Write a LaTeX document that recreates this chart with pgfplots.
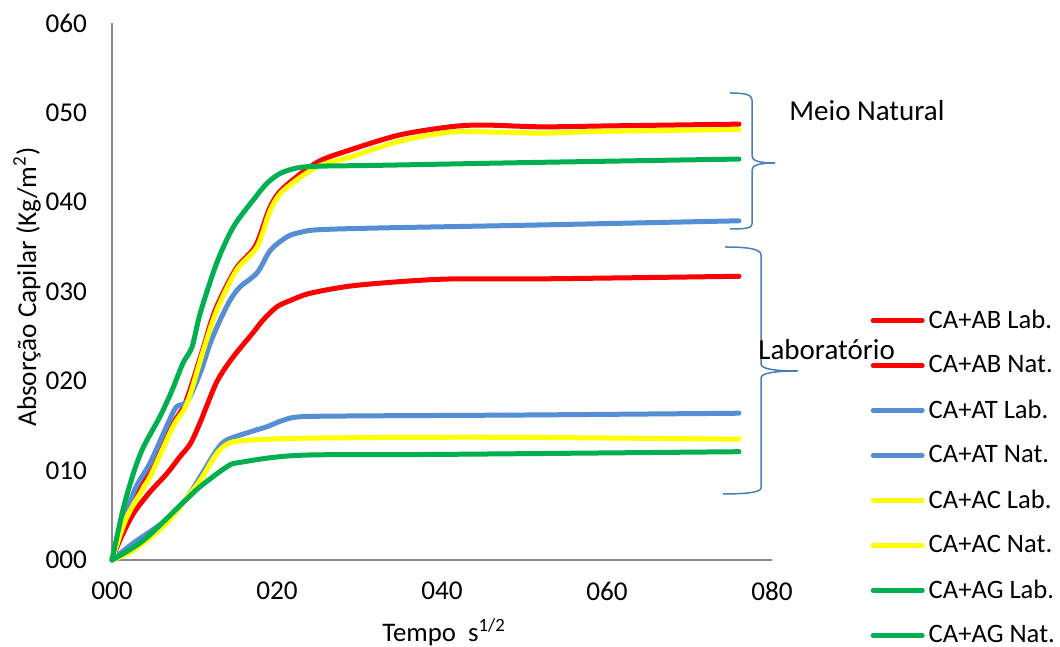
\documentclass[border=0pt]{standalone}
\usepackage{fontspec}
\setmainfont{Carlito}
\usepackage{pgfplots}
\pgfplotsset{compat=1.18}
\definecolor{cred}{HTML}{FF0000}
\definecolor{cblue}{HTML}{558ED5}
\definecolor{cyel}{HTML}{FFFF00}
\definecolor{cgreen}{HTML}{00B050}
\definecolor{cbrace}{HTML}{4A7EBB}
\definecolor{axgray}{HTML}{898989}
\begin{document}
\begin{tikzpicture}
\useasboundingbox (0,0) rectangle (530pt,323.5pt);
\begin{axis}[
  at={(56pt,43.5pt)}, anchor=south west, scale only axis,
  width=330pt, height=268.5pt,
  xmin=0, xmax=80, ymin=0, ymax=60,
  axis x line=bottom, axis y line=left,
  axis line style={-, draw=axgray, line width=0.75pt},
  xtick={0,20,40,60,80}, xticklabels={000,020,040,060,080},
  ytick={0,10,20,30,40,50,60}, yticklabels={000,010,020,030,040,050,060},
  major tick length=0pt,
  tick label style={font=\fontsize{13.6}{16}\selectfont, text=black},
  yticklabel style={xshift=-9pt},
  xticklabel style={yshift=-7.5pt},
  clip=false,
  legend cell align=left,
  legend image code/.code={\draw[#1, line width=2.5pt, line cap=round] (0pt,0pt) -- (24.5pt,0pt);},
  legend style={at={(1.149,0.474)}, anchor=north west, draw=none, fill=none,
    inner sep=0pt, row sep=8.05pt, column sep=0pt,
    font=\fontsize{13.3}{15.5}\selectfont, nodes={inner sep=2pt, text=black}},
  every axis plot/.append style={line width=2.5pt, line cap=round, line join=round, smooth},
]
\addplot[cred] coordinates {(0,0)(1,2.3)(2.6,5.2)(4.6,7.6)(6.6,9.6)(8.2,11.5)(9.5,13.0)(10.7,15.4)(12.7,19.9)(14.7,22.7)(17.1,25.4)(18.3,26.8)(20,28.3)(21.9,29.1)(24,29.8)(28.8,30.6)(34.9,31.1)(41,31.4)(50,31.4)(60,31.5)(76,31.7)};
\addlegendentry{CA+AB Lab.}
\addplot[cred] coordinates {(0,0)(1.8,5.2)(3.4,8.6)(4.6,9.8)(7.2,14.9)(8.9,17.6)(11.0,23.5)(12.5,27.9)(15,32.5)(17.4,35.1)(19.1,39.3)(20.7,41.5)(24.8,44.4)(28.8,45.8)(34.9,47.5)(41,48.4)(45,48.6)(52,48.4)(60,48.5)(76,48.7)};
\addlegendentry{CA+AB Nat.}
\addplot[cblue] coordinates {(0,0)(2.6,1.9)(6.6,4.5)(9.1,7.0)(10.7,9.3)(12.7,12.3)(13.9,13.4)(16.7,14.3)(18.8,14.9)(20.7,15.6)(22.8,16.0)(30,16.1)(50,16.2)(76,16.4)};
\addlegendentry{CA+AT Lab.}
\addplot[cblue] coordinates {(0,0)(2.6,7.5)(4.6,10.8)(6.6,14.9)(7.8,17.1)(9.1,17.7)(10.7,20.9)(11.9,24.2)(13.1,26.8)(14.3,29.0)(15.5,30.5)(17.6,32.1)(19.2,34.6)(21.2,36.1)(22.8,36.6)(25,36.9)(32.5,37.1)(50,37.4)(76,37.9)};
\addlegendentry{CA+AT Nat.}
\addplot[cyel] coordinates {(0,0)(2.6,1.1)(6.6,4.1)(9.1,7.0)(10.7,8.9)(12.7,11.9)(14.3,13.1)(16.7,13.4)(22.8,13.6)(35,13.7)(50,13.7)(76,13.5)};
\addlegendentry{CA+AC Lab.}
\addplot[cyel] coordinates {(0,0)(1.8,4.8)(4.6,9.3)(7.4,14.9)(9.1,17.5)(11.1,23.5)(12.7,27.9)(15.1,32.4)(17.6,35.0)(19.2,39.1)(20.8,41.3)(24.8,43.9)(28.8,45.0)(34.9,46.8)(41,47.8)(47,47.8)(52,47.7)(60,47.9)(76,48.1)};
\addlegendentry{CA+AC Nat.}
\addplot[cgreen] coordinates {(0,0)(3.8,2.2)(8.6,6.4)(10.7,8.2)(13.9,10.4)(15.5,10.9)(22.8,11.7)(40,11.8)(76,12.1)};
\addlegendentry{CA+AG Lab.}
\addplot[cgreen] coordinates {(0,0)(1.3,5.5)(2.6,9.7)(3.8,12.6)(5.8,16.0)(7.3,19.0)(8.6,22.0)(9.7,23.8)(10.7,27.6)(12.7,33.2)(14.7,37.2)(17.1,40.2)(18.8,42.1)(20.4,43.2)(22.4,43.8)(25,44.0)(32.5,44.1)(50,44.4)(76,44.8)};
\addlegendentry{CA+AG Nat.}
\end{axis}
\node[rotate=90, anchor=base west, inner sep=0pt, font=\fontsize{13.6}{16}\selectfont] at (18pt,110pt) {Absorção Capilar (Kg/m\textsuperscript{2})};
\node[anchor=base west, inner sep=0pt, font=\fontsize{13.4}{16}\selectfont] at (191pt,2.5pt) {Tempo\ \ s\textsuperscript{1/2}};
\begin{scope}[x=0.5pt, y=-0.5pt, shift={(0pt,323.5pt)}]
\draw[cbrace, line width=0.75pt] (730,93) .. controls (746,93) and (752,95) .. (752,100) -- (752,156) .. controls (752,161) and (760,163) .. (775,163) .. controls (760,163) and (752,165) .. (752,170) -- (752,224) .. controls (752,228) and (746,229) .. (730,229);
\draw[cbrace, line width=0.75pt] (725,247) .. controls (748,247) and (761,249) .. (761,255) -- (761,364) .. controls (761,369) and (775,371) .. (798,371) .. controls (775,371) and (761,373) .. (761,378) -- (761,488) .. controls (761,492) and (748,494) .. (723,494);
\node[anchor=base west, inner sep=0pt, font=\fontsize{14.5}{17}\selectfont] at (789,121) {Meio Natural};
\node[anchor=base west, inner sep=0pt, font=\fontsize{14.5}{17}\selectfont] at (758,360) {Laboratório};
\end{scope}
\end{tikzpicture}
\end{document}
